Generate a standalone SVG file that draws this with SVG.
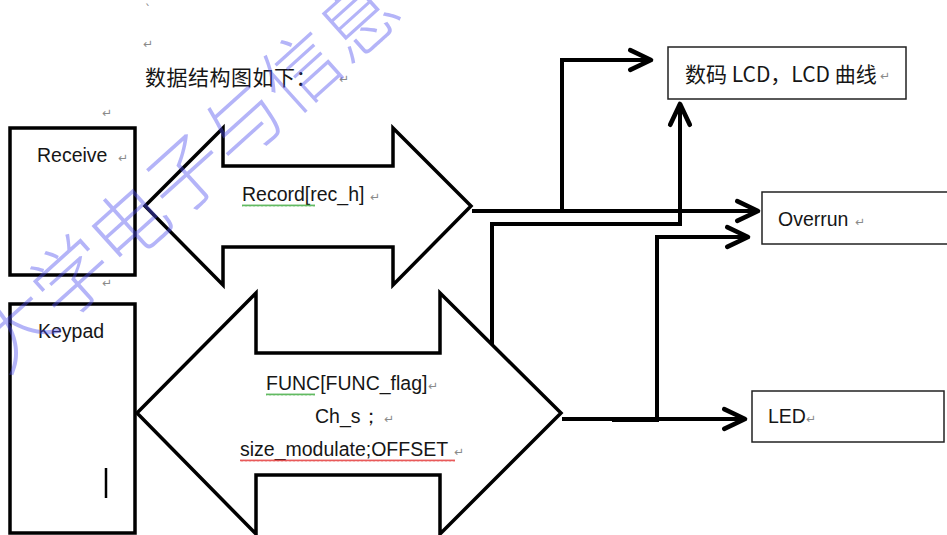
<svg xmlns="http://www.w3.org/2000/svg" width="947" height="535" viewBox="0 0 947 535">
  <style>
    .t { font-family: "Liberation Sans", Arial, sans-serif; font-size: 19.5px; fill: #161616; }
    .cjk { font-family: "Noto Sans CJK SC", "Liberation Sans", sans-serif; font-size: 21px; fill: #161616; }
    .ret { font-family: "DejaVu Sans", sans-serif; font-size: 12px; fill: #8a8a8a; }
    .box { fill: none; stroke: #000; stroke-width: 3.5; }
    .thin { fill: #fff; stroke: #222; stroke-width: 1.5; }
    .shape { fill: #fff; stroke: #000; stroke-width: 3.5; stroke-linejoin: miter; }
    .conn { fill: none; stroke: #000; stroke-width: 4; stroke-linejoin: miter; }
    .wm { font-family: "Noto Sans CJK SC", sans-serif; font-size: 77px; font-weight: 300; fill: #4d4dee; fill-opacity: 0.42; }
  </style>
  <defs>
    <marker id="arr" markerUnits="userSpaceOnUse" markerWidth="30" markerHeight="30" viewBox="-22 -12 26 24" refX="0" refY="0" orient="auto">
      <path d="M-18,-8.5 L0,0 L-18,8.5" fill="none" stroke="#000" stroke-width="4" stroke-linejoin="round" stroke-linecap="round"/>
    </marker>
    <pattern id="wavyG" width="4" height="3" patternUnits="userSpaceOnUse">
      <path d="M0,2.5 L1,0.5 L2,2.5 L3,0.5 L4,2.5" fill="none" stroke="#3aa83a" stroke-width="0.8"/>
    </pattern>
    <pattern id="wavyR" width="4" height="3" patternUnits="userSpaceOnUse">
      <path d="M0,2.5 L1,0.5 L2,2.5 L3,0.5 L4,2.5" fill="none" stroke="#e23030" stroke-width="0.8"/>
    </pattern>
  </defs>

  <rect width="947" height="535" fill="#fff"/>

  <!-- heading text -->
  <g id="heading">
    <text x="145" y="14" class="ret">`</text>
    <text x="143" y="48" class="ret">↵</text>
    <text x="145" y="85" class="cjk" letter-spacing="0.5">数据结构图如下：</text>
    <text x="339" y="83" class="ret">↵</text>
    <text x="102" y="117" class="ret">↵</text>
  </g>

  <!-- Receive box -->
  <g id="receive">
    <rect x="10" y="128" width="125" height="147" class="box"/>
    <text x="37" y="162" class="t">Receive</text>
    <text x="118" y="162" class="ret">↵</text>
    <text x="102" y="287" class="ret">↵</text>
  </g>

  <!-- Keypad box -->
  <g id="keypad">
    <rect x="10" y="304" width="125" height="229" class="box"/>
    <text x="38" y="338" class="t">Keypad</text>
    <line x1="106" y1="468" x2="106" y2="498" stroke="#000" stroke-width="2.5"/>
  </g>

  <!-- upper double arrow -->
  <g id="record-arrow">
    <polygon points="145,206 223,128 223,166 393,166 393,128 471,206 393,285 393,247 223,247 223,285" class="shape"/>
    <text x="242" y="201" class="t">Record[rec_h]</text>
    <rect x="242" y="204" width="73" height="3" fill="url(#wavyG)"/>
    <text x="370" y="201" class="ret">↵</text>
  </g>

  <!-- lower double arrow -->
  <g id="func-arrow">
    <polygon points="137,413 256,293 256,353 440,353 440,293 561,413 440,534 440,475 256,475 256,534" class="shape"/>
    <text x="266" y="390" class="t">FUNC[FUNC_flag]</text>
    <rect x="266" y="393" width="49" height="3" fill="url(#wavyG)"/>
    <text x="428" y="390" class="ret">↵</text>
    <text x="315" y="423" class="t">Ch_s；</text>
    <text x="384" y="423" class="ret">↵</text>
    <text x="240" y="456" class="t">size_modulate;OFFSET</text>
    <rect x="240" y="459" width="215" height="3" fill="url(#wavyR)"/>
    <text x="454" y="456" class="ret">↵</text>
  </g>

  <!-- right boxes -->
  <g id="lcd">
    <rect x="668" y="47" width="238" height="52" class="thin"/>
    <text x="685" y="82" class="cjk">数码 LCD，LCD 曲线</text>
    <text x="880" y="80" class="ret">↵</text>
  </g>
  <g id="overrun">
    <rect x="762" y="192" width="200" height="52" class="thin"/>
    <text x="778" y="226" class="t">Overrun</text>
    <text x="855" y="226" class="ret">↵</text>
  </g>
  <g id="led">
    <rect x="752" y="391" width="192" height="51" class="thin"/>
    <text x="768" y="423" class="t">LED</text>
    <text x="806" y="423" class="ret">↵</text>
  </g>

  <!-- connectors -->
  <g id="connectors">
    <path d="M472,211 H758" class="conn" marker-end="url(#arr)"/>
    <path d="M562,213 V60 H651" class="conn" marker-end="url(#arr)"/>
    <path d="M492,345 V224 H680 V104" class="conn" marker-end="url(#arr)"/>
    <path d="M562,419 H745" class="conn" marker-end="url(#arr)"/>
    <path d="M612,420 H657 V237 H748" class="conn" marker-end="url(#arr)"/>
  </g>

  <!-- watermark -->
  <g id="watermark" transform="translate(14,328) rotate(-42)">
    <text x="-38.5" y="29" class="wm">大学电子与信息</text>
  </g>
</svg>
